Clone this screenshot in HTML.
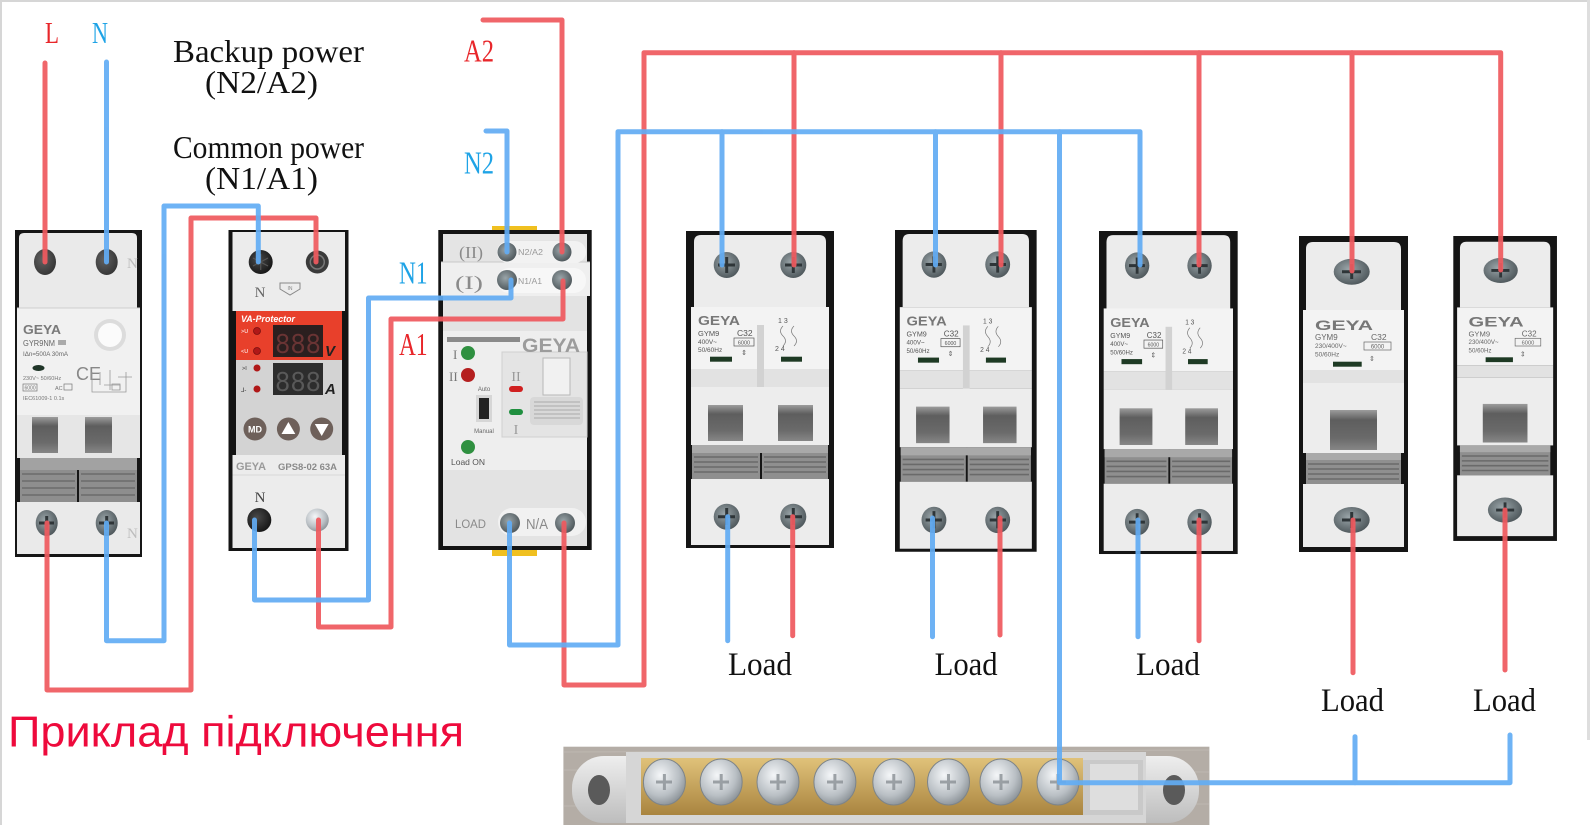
<!DOCTYPE html>
<html><head><meta charset="utf-8"><style>
html,body{margin:0;padding:0;background:#fff;}
svg{display:block;}
</style></head><body>
<svg width="1590" height="825" viewBox="0 0 1590 825" xmlns="http://www.w3.org/2000/svg">
<defs>
<linearGradient id="win" x1="0" y1="0" x2="0" y2="1"><stop offset="0" stop-color="#9c9c9c"/><stop offset=".25" stop-color="#5e5e5e"/><stop offset=".7" stop-color="#6a6a6a"/><stop offset="1" stop-color="#868686"/></linearGradient>
<radialGradient id="scr" cx=".42" cy=".4" r=".7"><stop offset="0" stop-color="#9aa5a9"/><stop offset="1" stop-color="#454e52"/></radialGradient>
<radialGradient id="blk" cx=".4" cy=".4" r=".7"><stop offset="0" stop-color="#4a4a4a"/><stop offset="1" stop-color="#111"/></radialGradient>
<radialGradient id="silv" cx=".4" cy=".35" r=".75"><stop offset="0" stop-color="#f4f6f8"/><stop offset=".6" stop-color="#b9bfc4"/><stop offset="1" stop-color="#7d8489"/></radialGradient>
<linearGradient id="brass" x1="0" y1="0" x2="0" y2="1"><stop offset="0" stop-color="#e0c27a"/><stop offset="1" stop-color="#a9843f"/></linearGradient>
<linearGradient id="plast" x1="0" y1="0" x2="0" y2="1"><stop offset="0" stop-color="#eeeeee"/><stop offset="1" stop-color="#bdbdbd"/></linearGradient>
</defs>
<rect width="1590" height="825" fill="#fff"/>
<rect x="0" y="0" width="1590" height="2" fill="#d6d6d6"/>
<rect x="0" y="0" width="2" height="825" fill="#d6d6d6"/>
<rect x="1587" y="0" width="3" height="740" fill="#dedede"/>

<!-- ============ RCBO ============ -->
<g font-family="'Liberation Sans',sans-serif">
<rect x="15" y="230" width="127" height="327" fill="#161616"/>
<path d="M19,308 V238 Q19,233 24,233 H132 Q137,233 137,238 V308 Z" fill="#eaeaea"/>
<rect x="17" y="308" width="123" height="107" fill="#f1f1f1"/>
<line x1="17" y1="308" x2="140" y2="308" stroke="#cfcfcf"/>
<rect x="17" y="415" width="123" height="43" fill="#e6e6e6"/>
<rect x="32" y="417" width="26" height="36" fill="url(#win)"/>
<rect x="85" y="417" width="27" height="36" fill="url(#win)"/>
<rect x="20" y="458" width="57" height="44" fill="#8e8e8e"/>
<rect x="79" y="458" width="58" height="44" fill="#8e8e8e"/>
<rect x="20" y="458" width="117" height="12" fill="#a2a2a2"/>
<g stroke="#6c6c6c" stroke-width="1.6">
<line x1="22" y1="474" x2="75" y2="474"/><line x1="22" y1="481" x2="75" y2="481"/><line x1="22" y1="488" x2="75" y2="488"/><line x1="22" y1="495" x2="75" y2="495"/>
<line x1="81" y1="474" x2="135" y2="474"/><line x1="81" y1="481" x2="135" y2="481"/><line x1="81" y1="488" x2="135" y2="488"/><line x1="81" y1="495" x2="135" y2="495"/>
</g>
<rect x="17" y="502" width="123" height="52" fill="#eaeaea"/>
<ellipse cx="45" cy="262" rx="11" ry="13" fill="url(#blk)" opacity=".85"/>
<ellipse cx="106.7" cy="262" rx="11" ry="13" fill="url(#blk)" opacity=".85"/>
<ellipse cx="46.7" cy="523" rx="11" ry="13" fill="url(#scr)"/>
<ellipse cx="106.7" cy="523" rx="11" ry="13" fill="url(#scr)"/>
<path d="M39,523 H54 M46.7,516 V530 M99,523 H114 M106.7,516 V530" stroke="#2f3538" stroke-width="3"/>
<text x="127" y="268" font-size="15" fill="#bdbdbd" font-family="'Liberation Serif',serif">N</text>
<text x="127" y="538" font-size="15" fill="#bdbdbd" font-family="'Liberation Serif',serif">N</text>
<text x="23" y="334" font-size="13" font-weight="bold" fill="#7a7a7a" textLength="38" lengthAdjust="spacingAndGlyphs">GEYA</text>
<text x="23" y="346" font-size="8" fill="#666" textLength="32" lengthAdjust="spacingAndGlyphs">GYR9NM</text>
<rect x="58" y="340" width="8" height="5" fill="#aaa"/>
<text x="23" y="356" font-size="6.5" fill="#666" textLength="45" lengthAdjust="spacingAndGlyphs">IΔn=500A 30mA</text>
<ellipse cx="38.5" cy="368" rx="6" ry="3" fill="#1f3528"/>
<circle cx="110" cy="335" r="16" fill="#dcdcdc"/>
<circle cx="110" cy="335" r="12" fill="#fbfbfb"/>
<text x="76" y="380" font-size="18" fill="#888">CE</text>
<text x="23" y="380" font-size="5.5" fill="#777">230V~ 50/60Hz</text>
<rect x="23" y="384" width="14" height="7" fill="none" stroke="#777" stroke-width=".7"/>
<text x="24.5" y="389.5" font-size="5" fill="#777">6000</text>
<text x="55" y="390" font-size="5.5" fill="#777">AC</text>
<rect x="64" y="384" width="8" height="6" fill="none" stroke="#777" stroke-width=".7"/>
<text x="23" y="400" font-size="5.5" fill="#777">IEC61009-1  0.1s</text>
<g stroke="#999" stroke-width=".8" fill="none"><path d="M92,372 V392 H126 V372 M100,372 V385 M110,370 V390 M118,377 H132 M104,385 H120 V390"/><rect x="112" y="384" width="8" height="6"/></g>
</g>

<!-- ============ Protector ============ -->
<g font-family="'Liberation Sans',sans-serif">
<rect x="228.5" y="230" width="120" height="321" fill="#141414"/>
<rect x="232.5" y="232" width="112.5" height="79" fill="#ececec"/>
<rect x="236" y="311" width="106" height="49" fill="#e8402b"/>
<rect x="236" y="360" width="106" height="95" fill="#d3d3d3"/>
<rect x="232.5" y="455" width="112.5" height="93" fill="#ececec"/>
<line x1="232.5" y1="475" x2="345" y2="475" stroke="#d9d9d9"/>
<circle cx="260.7" cy="262" r="12" fill="url(#blk)"/>
<path d="M253,258 L268,266 M253,266 L268,258 M260.7,254 V270" stroke="#555" stroke-width="1.2"/>
<circle cx="317.3" cy="262" r="11.5" fill="#3a3a3a"/>
<circle cx="317.3" cy="262" r="7" fill="none" stroke="#777" stroke-width="1.5"/>
<text x="260" y="297" font-size="15" fill="#666" text-anchor="middle" font-family="'Liberation Serif',serif">N</text>
<path d="M280,283 H300 V289 L290,295 L280,289 Z" fill="none" stroke="#888" stroke-width="1"/>
<text x="290" y="290" font-size="5" fill="#888" text-anchor="middle">IN</text>
<text x="241" y="322" font-size="9.5" font-style="italic" font-weight="bold" fill="#fff" textLength="54" lengthAdjust="spacingAndGlyphs">VA-Protector</text>
<text x="241" y="333" font-size="5.5" fill="#fff">&gt;U</text>
<circle cx="257" cy="331" r="3.5" fill="#b01818" stroke="#7a1010" stroke-width=".8"/>
<text x="241" y="353" font-size="5.5" fill="#fff">&lt;U</text>
<circle cx="257" cy="351" r="3.5" fill="#b01818" stroke="#7a1010" stroke-width=".8"/>
<rect x="273" y="325" width="50" height="32" fill="#2b1f1f"/>
<text x="275" y="353" font-size="29" fill="#6a3434" font-family="'Liberation Mono',monospace" textLength="46" lengthAdjust="spacingAndGlyphs">888</text>
<text x="325" y="356" font-size="15" font-weight="bold" font-style="italic" fill="#222">V</text>
<text x="242" y="370" font-size="5.5" fill="#333">&gt;I</text>
<circle cx="257" cy="368" r="3.5" fill="#b01818"/>
<text x="241" y="392" font-size="6" fill="#333">⅃-</text>
<circle cx="257" cy="389" r="3.5" fill="#b01818"/>
<rect x="273" y="363" width="50" height="32" fill="#2d2d2d"/>
<text x="275" y="391" font-size="29" fill="#595959" font-family="'Liberation Mono',monospace" textLength="46" lengthAdjust="spacingAndGlyphs">888</text>
<text x="325" y="394" font-size="15" font-weight="bold" font-style="italic" fill="#222">A</text>
<circle cx="255" cy="429" r="11.5" fill="#6e605a"/>
<text x="255" y="432.5" font-size="9" font-weight="bold" fill="#fff" text-anchor="middle">MD</text>
<circle cx="288.4" cy="429" r="11.5" fill="#6e605a"/>
<path d="M281.5,434 L295.3,434 L288.4,422 Z" fill="#fff"/>
<circle cx="321.7" cy="429" r="11.5" fill="#6e605a"/>
<path d="M314.8,424 L328.6,424 L321.7,436 Z" fill="#fff"/>
<text x="236" y="470" font-size="11" font-weight="bold" fill="#9a9a9a" textLength="30" lengthAdjust="spacingAndGlyphs">GEYA</text>
<text x="278" y="470" font-size="9" font-weight="bold" fill="#8a8a8a" textLength="59" lengthAdjust="spacingAndGlyphs">GPS8-02 63A</text>
<text x="260" y="502" font-size="15" fill="#444" text-anchor="middle" font-family="'Liberation Serif',serif">N</text>
<circle cx="259.3" cy="520" r="12" fill="url(#blk)"/>
<circle cx="317.3" cy="520" r="11.5" fill="url(#silv)"/>
</g>

<!-- ============ ATS ============ -->
<g font-family="'Liberation Sans',sans-serif">
<rect x="492" y="226" width="45" height="7" fill="#f0c020"/>
<rect x="492" y="545" width="45" height="11" fill="#f0c020"/>
<rect x="438.3" y="230" width="153.4" height="320" fill="#141414"/>
<rect x="443" y="234" width="144" height="28" fill="#e4e4e4"/>
<rect x="441" y="262" width="149" height="34" fill="#efefef"/>
<line x1="441" y1="262" x2="590" y2="262" stroke="#c8c8c8"/>
<rect x="443" y="296" width="144" height="35" fill="#e3e3e3"/>
<rect x="497" y="241" width="89" height="22" rx="11" fill="#f2f2f2"/>
<rect x="497" y="268" width="89" height="25" rx="12" fill="#f7f7f7"/>
<text x="459" y="258" font-size="17" fill="#8a8a8a" font-family="'Liberation Serif',serif" textLength="24" lengthAdjust="spacingAndGlyphs">(II)</text>
<text x="455" y="289" font-size="19" fill="#8a8a8a" font-family="'Liberation Serif',serif" textLength="28" lengthAdjust="spacingAndGlyphs">(I)</text>
<text x="518" y="255" font-size="8" fill="#9a9a9a" textLength="25" lengthAdjust="spacingAndGlyphs">N2/A2</text>
<text x="518" y="284" font-size="8" fill="#9a9a9a" textLength="24" lengthAdjust="spacingAndGlyphs">N1/A1</text>
<circle cx="507" cy="252" r="9.5" fill="url(#scr)"/>
<circle cx="562" cy="252" r="9.5" fill="url(#scr)"/>
<circle cx="507" cy="280" r="10" fill="url(#scr)"/>
<circle cx="562" cy="280" r="10" fill="url(#scr)"/>
<rect x="443" y="331" width="144" height="139" fill="#eeeeee"/>
<rect x="502" y="352" width="85" height="85" fill="#e4e4e4" stroke="#d0d0d0"/>
<rect x="447" y="337" width="73" height="5" fill="#8a8a8a"/>
<text x="522" y="352" font-size="19" font-weight="bold" fill="#9c9c9c" textLength="58" lengthAdjust="spacingAndGlyphs">GEYA</text>
<text x="453" y="359" font-size="13" fill="#777" font-family="'Liberation Serif',serif">I</text>
<circle cx="468" cy="353" r="7" fill="#2f9040"/>
<text x="449" y="381" font-size="13" fill="#777" font-family="'Liberation Serif',serif">II</text>
<circle cx="468" cy="375" r="7" fill="#b52020"/>
<text x="484" y="391" font-size="6" fill="#666" text-anchor="middle">Auto</text>
<rect x="476" y="395" width="16" height="27" fill="#d6d6d6"/>
<rect x="479" y="398" width="10" height="21" fill="#222"/>
<text x="484" y="433" font-size="6" fill="#666" text-anchor="middle">Manual</text>
<circle cx="468" cy="447" r="7" fill="#2f9040"/>
<text x="468" y="465" font-size="8.5" fill="#555" text-anchor="middle">Load ON</text>
<rect x="543" y="358" width="27" height="37" fill="#f1f1f1" stroke="#b8b8b8"/>
<text x="516" y="381" font-size="14" fill="#999" text-anchor="middle" font-family="'Liberation Serif',serif">II</text>
<rect x="509" y="386" width="14" height="6" rx="3" fill="#d02020"/>
<rect x="509" y="409" width="14" height="6" rx="3" fill="#1f8f3f"/>
<text x="516" y="434" font-size="14" fill="#999" text-anchor="middle" font-family="'Liberation Serif',serif">I</text>
<rect x="530" y="397" width="53" height="28" rx="4" fill="#d8d8d8"/>
<g stroke="#aaa" stroke-width="1"><line x1="534" y1="402" x2="580" y2="402"/><line x1="534" y1="406" x2="580" y2="406"/><line x1="534" y1="410" x2="580" y2="410"/><line x1="534" y1="414" x2="580" y2="414"/><line x1="534" y1="418" x2="580" y2="418"/></g>
<rect x="443" y="470" width="144" height="76" fill="#e3e3e3"/>
<rect x="498" y="508" width="88" height="28" rx="14" fill="#f1f1f1"/>
<text x="455" y="528" font-size="12" fill="#8a8a8a" textLength="31" lengthAdjust="spacingAndGlyphs">LOAD</text>
<text x="526" y="529" font-size="15" fill="#8a8a8a" textLength="22" lengthAdjust="spacingAndGlyphs">N/A</text>
<circle cx="510" cy="523" r="10" fill="url(#scr)"/>
<circle cx="565" cy="523" r="10" fill="url(#scr)"/>
</g>

<!-- ============ 2-pole breakers ============ -->
<g font-family="'Liberation Sans',sans-serif">
<g transform="translate(686,231)">
 <rect width="148" height="317" fill="#151515"/>
 <path d="M8,76 V11 Q8,4 15,4 H133 Q140,4 140,11 V76 Z" fill="#ececec"/>
 <rect x="5" y="76" width="138" height="62" fill="#f3f3f3"/>
 <rect x="5" y="138" width="138" height="18" fill="#e2e2e2"/>
 <rect x="71" y="94" width="7" height="62" fill="#d2d2d2"/>
 <rect x="5" y="156" width="138" height="58" fill="#ededed"/>
 <rect x="22" y="174" width="35" height="36" fill="url(#win)"/>
 <rect x="92" y="174" width="35" height="36" fill="url(#win)"/>
 <rect x="6" y="214" width="68" height="34" fill="#8f8f8f"/>
 <rect x="76" y="214" width="66" height="34" fill="#8f8f8f"/>
 <rect x="6" y="214" width="136" height="8" fill="#a9a9a9"/>
 <g stroke="#6a6a6a" stroke-width="1.6"><line x1="8" y1="226" x2="72" y2="226"/><line x1="8" y1="231" x2="72" y2="231"/><line x1="8" y1="236" x2="72" y2="236"/><line x1="8" y1="241" x2="72" y2="241"/><line x1="78" y1="226" x2="140" y2="226"/><line x1="78" y1="231" x2="140" y2="231"/><line x1="78" y1="236" x2="140" y2="236"/><line x1="78" y1="241" x2="140" y2="241"/></g>
 <rect x="5" y="248" width="138" height="66" fill="#ececec"/>
 <ellipse cx="40.7" cy="34" rx="13" ry="13" fill="url(#scr)"/><ellipse cx="107.3" cy="34" rx="13" ry="13" fill="url(#scr)"/>
 <ellipse cx="40.7" cy="285.7" rx="13" ry="13" fill="url(#scr)"/><ellipse cx="107.3" cy="285.7" rx="13" ry="13" fill="url(#scr)"/>
 <path d="M32,34 H49 M40.7,26 V42 M99,34 H116 M107.3,26 V42 M32,285.7 H49 M40.7,277 V294 M99,285.7 H116 M107.3,277 V294" stroke="#2e3538" stroke-width="3"/>
 <text x="12" y="94" font-size="13" font-weight="bold" fill="#777" textLength="42" lengthAdjust="spacingAndGlyphs">GEYA</text>
 <text x="12" y="105" font-size="7.5" fill="#555">GYM9</text>
 <text x="51" y="105" font-size="8.5" fill="#555">C32</text>
 <text x="12" y="113" font-size="6.5" fill="#555">400V~</text>
 <text x="12" y="121" font-size="6.5" fill="#555">50/60Hz</text>
 <rect x="48" y="107" width="20" height="8" fill="none" stroke="#555" stroke-width=".7"/>
 <text x="58" y="113.5" font-size="5.5" fill="#555" text-anchor="middle">6000</text>
 <text x="58" y="124" font-size="7" fill="#555" text-anchor="middle">⇕</text>
 <rect x="24" y="125.7" width="22" height="5" fill="#1e3a24"/>
 <text x="92" y="92" font-size="7" fill="#555">1  3</text>
 <text x="89" y="120" font-size="7" fill="#555">2  4</text>
 <path d="M97,95 Q92,100 97,105 Q102,110 97,115 M108,95 Q103,100 108,105 Q113,110 108,115" fill="none" stroke="#777" stroke-width=".7"/>
 <rect x="95" y="125.7" width="21" height="5" fill="#1e3a24"/>
</g>
<g transform="translate(895,230) scale(0.957,1.015)">
 <rect width="148" height="317" fill="#151515"/>
 <path d="M8,76 V11 Q8,4 15,4 H133 Q140,4 140,11 V76 Z" fill="#ececec"/>
 <rect x="5" y="76" width="138" height="62" fill="#f3f3f3"/>
 <rect x="5" y="138" width="138" height="18" fill="#e2e2e2"/>
 <rect x="71" y="94" width="7" height="62" fill="#d2d2d2"/>
 <rect x="5" y="156" width="138" height="58" fill="#ededed"/>
 <rect x="22" y="174" width="35" height="36" fill="url(#win)"/>
 <rect x="92" y="174" width="35" height="36" fill="url(#win)"/>
 <rect x="6" y="214" width="68" height="34" fill="#8f8f8f"/>
 <rect x="76" y="214" width="66" height="34" fill="#8f8f8f"/>
 <rect x="6" y="214" width="136" height="8" fill="#a9a9a9"/>
 <g stroke="#6a6a6a" stroke-width="1.6"><line x1="8" y1="226" x2="72" y2="226"/><line x1="8" y1="231" x2="72" y2="231"/><line x1="8" y1="236" x2="72" y2="236"/><line x1="8" y1="241" x2="72" y2="241"/><line x1="78" y1="226" x2="140" y2="226"/><line x1="78" y1="231" x2="140" y2="231"/><line x1="78" y1="236" x2="140" y2="236"/><line x1="78" y1="241" x2="140" y2="241"/></g>
 <rect x="5" y="248" width="138" height="66" fill="#ececec"/>
 <ellipse cx="40.7" cy="34" rx="13" ry="13" fill="url(#scr)"/><ellipse cx="107.3" cy="34" rx="13" ry="13" fill="url(#scr)"/>
 <ellipse cx="40.7" cy="285.7" rx="13" ry="13" fill="url(#scr)"/><ellipse cx="107.3" cy="285.7" rx="13" ry="13" fill="url(#scr)"/>
 <path d="M32,34 H49 M40.7,26 V42 M99,34 H116 M107.3,26 V42 M32,285.7 H49 M40.7,277 V294 M99,285.7 H116 M107.3,277 V294" stroke="#2e3538" stroke-width="3"/>
 <text x="12" y="94" font-size="13" font-weight="bold" fill="#777" textLength="42" lengthAdjust="spacingAndGlyphs">GEYA</text>
 <text x="12" y="105" font-size="7.5" fill="#555">GYM9</text>
 <text x="51" y="105" font-size="8.5" fill="#555">C32</text>
 <text x="12" y="113" font-size="6.5" fill="#555">400V~</text>
 <text x="12" y="121" font-size="6.5" fill="#555">50/60Hz</text>
 <rect x="48" y="107" width="20" height="8" fill="none" stroke="#555" stroke-width=".7"/>
 <text x="58" y="113.5" font-size="5.5" fill="#555" text-anchor="middle">6000</text>
 <text x="58" y="124" font-size="7" fill="#555" text-anchor="middle">⇕</text>
 <rect x="24" y="125.7" width="22" height="5" fill="#1e3a24"/>
 <text x="92" y="92" font-size="7" fill="#555">1  3</text>
 <text x="89" y="120" font-size="7" fill="#555">2  4</text>
 <path d="M97,95 Q92,100 97,105 Q102,110 97,115 M108,95 Q103,100 108,105 Q113,110 108,115" fill="none" stroke="#777" stroke-width=".7"/>
 <rect x="95" y="125.7" width="21" height="5" fill="#1e3a24"/>
</g>
<g transform="translate(1099,231) scale(0.937,1.019)">
 <rect width="148" height="317" fill="#151515"/>
 <path d="M8,76 V11 Q8,4 15,4 H133 Q140,4 140,11 V76 Z" fill="#ececec"/>
 <rect x="5" y="76" width="138" height="62" fill="#f3f3f3"/>
 <rect x="5" y="138" width="138" height="18" fill="#e2e2e2"/>
 <rect x="71" y="94" width="7" height="62" fill="#d2d2d2"/>
 <rect x="5" y="156" width="138" height="58" fill="#ededed"/>
 <rect x="22" y="174" width="35" height="36" fill="url(#win)"/>
 <rect x="92" y="174" width="35" height="36" fill="url(#win)"/>
 <rect x="6" y="214" width="68" height="34" fill="#8f8f8f"/>
 <rect x="76" y="214" width="66" height="34" fill="#8f8f8f"/>
 <rect x="6" y="214" width="136" height="8" fill="#a9a9a9"/>
 <g stroke="#6a6a6a" stroke-width="1.6"><line x1="8" y1="226" x2="72" y2="226"/><line x1="8" y1="231" x2="72" y2="231"/><line x1="8" y1="236" x2="72" y2="236"/><line x1="8" y1="241" x2="72" y2="241"/><line x1="78" y1="226" x2="140" y2="226"/><line x1="78" y1="231" x2="140" y2="231"/><line x1="78" y1="236" x2="140" y2="236"/><line x1="78" y1="241" x2="140" y2="241"/></g>
 <rect x="5" y="248" width="138" height="66" fill="#ececec"/>
 <ellipse cx="40.7" cy="34" rx="13" ry="13" fill="url(#scr)"/><ellipse cx="107.3" cy="34" rx="13" ry="13" fill="url(#scr)"/>
 <ellipse cx="40.7" cy="285.7" rx="13" ry="13" fill="url(#scr)"/><ellipse cx="107.3" cy="285.7" rx="13" ry="13" fill="url(#scr)"/>
 <path d="M32,34 H49 M40.7,26 V42 M99,34 H116 M107.3,26 V42 M32,285.7 H49 M40.7,277 V294 M99,285.7 H116 M107.3,277 V294" stroke="#2e3538" stroke-width="3"/>
 <text x="12" y="94" font-size="13" font-weight="bold" fill="#777" textLength="42" lengthAdjust="spacingAndGlyphs">GEYA</text>
 <text x="12" y="105" font-size="7.5" fill="#555">GYM9</text>
 <text x="51" y="105" font-size="8.5" fill="#555">C32</text>
 <text x="12" y="113" font-size="6.5" fill="#555">400V~</text>
 <text x="12" y="121" font-size="6.5" fill="#555">50/60Hz</text>
 <rect x="48" y="107" width="20" height="8" fill="none" stroke="#555" stroke-width=".7"/>
 <text x="58" y="113.5" font-size="5.5" fill="#555" text-anchor="middle">6000</text>
 <text x="58" y="124" font-size="7" fill="#555" text-anchor="middle">⇕</text>
 <rect x="24" y="125.7" width="22" height="5" fill="#1e3a24"/>
 <text x="92" y="92" font-size="7" fill="#555">1  3</text>
 <text x="89" y="120" font-size="7" fill="#555">2  4</text>
 <path d="M97,95 Q92,100 97,105 Q102,110 97,115 M108,95 Q103,100 108,105 Q113,110 108,115" fill="none" stroke="#777" stroke-width=".7"/>
 <rect x="95" y="125.7" width="21" height="5" fill="#1e3a24"/>
</g>

<!-- ============ 1-pole breakers ============ -->
<g transform="translate(1299,236)">
 <rect width="109" height="316" fill="#151515"/>
 <path d="M7,74 V13 Q7,6 14,6 H95 Q102,6 102,13 V74 Z" fill="#ececec"/>
 <rect x="4" y="74" width="101" height="60" fill="#f3f3f3"/>
 <rect x="4" y="134" width="101" height="13" fill="#e2e2e2"/>
 <rect x="4" y="147" width="101" height="70" fill="#ededed"/>
 <rect x="31" y="174" width="47" height="40" fill="url(#win)"/>
 <rect x="7" y="217" width="95" height="31" fill="#8f8f8f"/>
 <rect x="7" y="217" width="95" height="7" fill="#a9a9a9"/>
 <g stroke="#6a6a6a" stroke-width="1.6"><line x1="9" y1="228" x2="100" y2="228"/><line x1="9" y1="233" x2="100" y2="233"/><line x1="9" y1="238" x2="100" y2="238"/><line x1="9" y1="243" x2="100" y2="243"/></g>
 <rect x="4" y="248" width="101" height="63" fill="#ececec"/>
 <ellipse cx="52.7" cy="35.7" rx="18" ry="13" fill="url(#scr)"/>
 <ellipse cx="52.7" cy="284" rx="18" ry="13" fill="url(#scr)"/>
 <path d="M43,35.7 H62 M52.7,28 V43 M43,284 H62 M52.7,276 V292" stroke="#2e3538" stroke-width="3"/>
 <text x="16" y="94" font-size="14" font-weight="bold" fill="#777" textLength="58" lengthAdjust="spacingAndGlyphs">GEYA</text>
 <text x="16" y="104" font-size="8" fill="#666">GYM9</text>
 <text x="72" y="104" font-size="8.5" fill="#666">C32</text>
 <text x="16" y="112" font-size="6.5" fill="#666">230/400V~</text>
 <rect x="65" y="106" width="27" height="8" fill="none" stroke="#666" stroke-width=".7"/>
 <text x="78.5" y="112.5" font-size="6" fill="#666" text-anchor="middle">6000</text>
 <text x="16" y="120.5" font-size="6.5" fill="#666">50/60Hz</text>
 <rect x="34" y="125.7" width="28.7" height="5" fill="#1e3a24"/>
 <text x="70" y="125" font-size="7" fill="#666">⇕</text>
</g>
<g transform="translate(1453.3,236) scale(0.951,0.965)">
 <rect width="109" height="316" fill="#151515"/>
 <path d="M7,74 V13 Q7,6 14,6 H95 Q102,6 102,13 V74 Z" fill="#ececec"/>
 <rect x="4" y="74" width="101" height="60" fill="#f3f3f3"/>
 <rect x="4" y="134" width="101" height="13" fill="#e2e2e2"/>
 <rect x="4" y="147" width="101" height="70" fill="#ededed"/>
 <rect x="31" y="174" width="47" height="40" fill="url(#win)"/>
 <rect x="7" y="217" width="95" height="31" fill="#8f8f8f"/>
 <rect x="7" y="217" width="95" height="7" fill="#a9a9a9"/>
 <g stroke="#6a6a6a" stroke-width="1.6"><line x1="9" y1="228" x2="100" y2="228"/><line x1="9" y1="233" x2="100" y2="233"/><line x1="9" y1="238" x2="100" y2="238"/><line x1="9" y1="243" x2="100" y2="243"/></g>
 <rect x="4" y="248" width="101" height="63" fill="#ececec"/>
 <ellipse cx="49.8" cy="35.7" rx="18" ry="13" fill="url(#scr)"/>
 <ellipse cx="54.4" cy="284" rx="18" ry="13" fill="url(#scr)"/>
 <path d="M40,35.7 H59 M49.8,28 V43 M45,284 H64 M54.4,276 V292" stroke="#2e3538" stroke-width="3"/>
 <text x="16" y="94" font-size="14" font-weight="bold" fill="#777" textLength="58" lengthAdjust="spacingAndGlyphs">GEYA</text>
 <text x="16" y="104" font-size="8" fill="#666">GYM9</text>
 <text x="72" y="104" font-size="8.5" fill="#666">C32</text>
 <text x="16" y="112" font-size="6.5" fill="#666">230/400V~</text>
 <rect x="65" y="106" width="27" height="8" fill="none" stroke="#666" stroke-width=".7"/>
 <text x="78.5" y="112.5" font-size="6" fill="#666" text-anchor="middle">6000</text>
 <text x="16" y="120.5" font-size="6.5" fill="#666">50/60Hz</text>
 <rect x="34" y="125.7" width="28.7" height="5" fill="#1e3a24"/>
 <text x="70" y="125" font-size="7" fill="#666">⇕</text>
</g>
</g>

<!-- ============ Bus bar ============ -->
<g>
<rect x="563.4" y="746.7" width="646" height="78.3" fill="#b4ada6"/>
<g stroke="#c3bdb6" stroke-width="1" opacity=".7"><line x1="564" y1="752" x2="1209" y2="750"/><line x1="564" y1="770" x2="1209" y2="772"/><line x1="564" y1="806" x2="1209" y2="804"/></g>
<rect x="572" y="756" width="627" height="67" rx="32" fill="url(#plast)"/>
<rect x="626" y="752" width="520" height="71" fill="#d6d6d6"/>
<rect x="641" y="758" width="442" height="57" fill="url(#brass)"/>
<rect x="1083" y="760" width="60" height="55" fill="#c9c9c9"/>
<rect x="1090" y="764" width="48" height="46" fill="#dedede"/>
<ellipse cx="599" cy="790" rx="11" ry="15" fill="#5a5a5a"/>
<ellipse cx="1174" cy="790" rx="11" ry="15" fill="#5a5a5a"/>
<g fill="url(#silv)" stroke="#7d8489" stroke-width="1">
<ellipse cx="664.4" cy="782" rx="21" ry="23"/>
<ellipse cx="721.2" cy="782" rx="21" ry="23"/>
<ellipse cx="778" cy="782" rx="21" ry="23"/>
<ellipse cx="834.9" cy="782" rx="21" ry="23"/>
<ellipse cx="893.8" cy="782" rx="21" ry="23"/>
<ellipse cx="948.5" cy="782" rx="21" ry="23"/>
<ellipse cx="1001" cy="782" rx="21" ry="23"/>
<ellipse cx="1058" cy="782" rx="21" ry="23"/>
</g>
<g stroke="#8a9095" stroke-width="3" opacity=".8">
<path d="M656,782 H672 M664.4,774 V790"/><path d="M713,782 H729 M721.2,774 V790"/><path d="M770,782 H786 M778,774 V790"/><path d="M827,782 H843 M834.9,774 V790"/><path d="M886,782 H902 M893.8,774 V790"/><path d="M940,782 H956 M948.5,774 V790"/><path d="M993,782 H1009 M1001,774 V790"/><path d="M1050,782 H1066 M1058,774 V790"/>
</g>
</g>

<!-- ============ Wires ============ -->
<g fill="none" stroke-width="5" stroke-linecap="round" stroke-linejoin="round">
<g stroke="#ef5a5f" opacity=".93">
<path d="M45,63 V262"/>
<path d="M47,523 V690 H191 V218 H316 V262"/>
<path d="M318.5,520 V627 H391 V319 H563 V281"/>
<path d="M483,20 H562 V252"/>
<path d="M564,523 V685 H644 V52.7 H1500.7 V270"/>
<path d="M794,52.7 V265"/>
<path d="M1001,52.7 V265"/>
<path d="M1199,52.7 V265"/>
<path d="M1352,52.7 V271"/>
<path d="M792.7,516.7 V635.7"/>
<path d="M1000,518 V635"/>
<path d="M1199,520 V640.7"/>
<path d="M1353,520 V672.7"/>
<path d="M1505,510 V670"/>
</g>
<g stroke="#62acf4" opacity=".92">
<path d="M106.5,62 V262"/>
<path d="M106.5,523 V640.7 H164 V206 H258.3 V262"/>
<path d="M254.5,520 V600 H368.5 V298 H511 V280"/>
<path d="M486,131 H507 V252"/>
<path d="M509.5,523 V645 H618 V131.7 H1140 V265"/>
<path d="M722,131.7 V265"/>
<path d="M935.5,131.7 V265"/>
<path d="M1059.5,131.7 V782.7 H1510 V735"/>
<path d="M1355,736.7 V782.7"/>
<path d="M727.7,516.7 V640.7"/>
<path d="M932.5,518 V636.7"/>
<path d="M1138,520 V636.7"/>
</g>
</g>

<!-- ============ Labels ============ -->
<g font-family="'Liberation Serif','Noto Serif CJK SC',serif">
<text x="45" y="43" font-size="31" fill="#e8262a" textLength="14" lengthAdjust="spacingAndGlyphs">L</text>
<text x="92" y="43" font-size="31" fill="#1ea3e6" textLength="16" lengthAdjust="spacingAndGlyphs">N</text>
<text x="173" y="62" font-size="32" fill="#111" textLength="191" lengthAdjust="spacingAndGlyphs">Backup  power</text>
<text x="205" y="93" font-size="32" fill="#111" textLength="113" lengthAdjust="spacingAndGlyphs">(N2/A2)</text>
<text x="173" y="158" font-size="32" fill="#111" textLength="191" lengthAdjust="spacingAndGlyphs">Common  power</text>
<text x="205" y="189" font-size="32" fill="#111" textLength="113" lengthAdjust="spacingAndGlyphs">(N1/A1)</text>
<text x="464" y="61.7" font-size="32" fill="#e8262a" textLength="30" lengthAdjust="spacingAndGlyphs">A2</text>
<text x="464" y="173.3" font-size="32" fill="#1ea3e6" textLength="30" lengthAdjust="spacingAndGlyphs">N2</text>
<text x="399" y="283.3" font-size="32" fill="#1ea3e6" textLength="28.5" lengthAdjust="spacingAndGlyphs">N1</text>
<text x="399" y="355" font-size="32" fill="#e8262a" textLength="28.5" lengthAdjust="spacingAndGlyphs">A1</text>
<text x="728" y="675" font-size="33" fill="#111" textLength="64" lengthAdjust="spacingAndGlyphs">Load</text>
<text x="934.6" y="675" font-size="33" fill="#111" textLength="63" lengthAdjust="spacingAndGlyphs">Load</text>
<text x="1136" y="675" font-size="33" fill="#111" textLength="64" lengthAdjust="spacingAndGlyphs">Load</text>
<text x="1321" y="711" font-size="33" fill="#111" textLength="63" lengthAdjust="spacingAndGlyphs">Load</text>
<text x="1473" y="711" font-size="33" fill="#111" textLength="63" lengthAdjust="spacingAndGlyphs">Load</text>
</g>
<text x="8" y="746.7" font-family="'Liberation Sans',sans-serif" font-size="44" fill="#ee0a3c" textLength="456" lengthAdjust="spacingAndGlyphs">Приклад підключення</text>
</svg>
</body></html>
